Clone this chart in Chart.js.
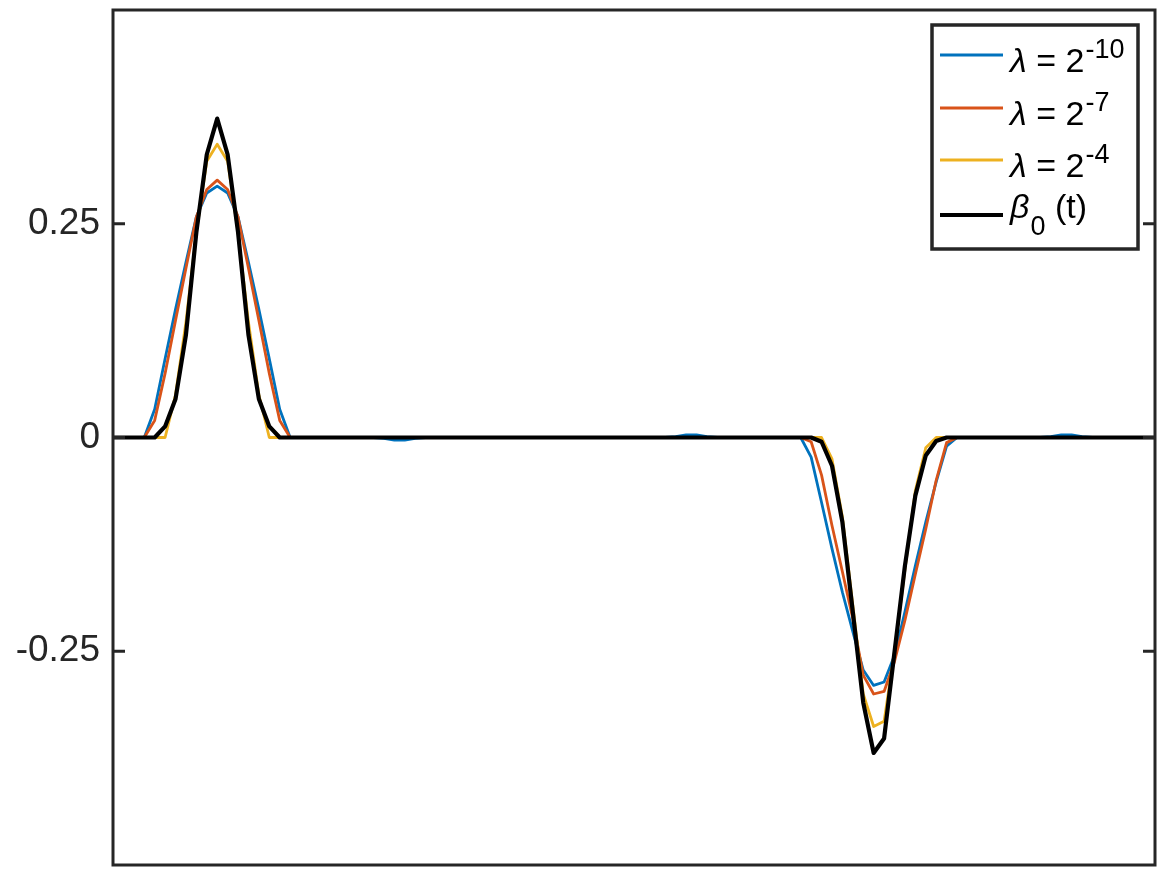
<!DOCTYPE html>
<html>
<head>
<meta charset="utf-8">
<script src="https://cdn.jsdelivr.net/npm/chart.js@4"></script>
<style>
  html, body { margin: 0; padding: 0; background: #fff; }
  #wrap { width: 1167px; height: 875px; }
</style>
</head>
<body>
<div id="wrap"><canvas id="betaChart" width="1167" height="875"></canvas></div>
<script>
// sampling grid t = 0 .. 1 (101 samples)
var tValues = Array.from({ length: 101 }, function (_, i) { return i / 100; });

var lambda10 = [
    0, 0, 0, 0, 0.033, 0.092, 0.150, 0.205, 0.258, 0.286,
    0.294, 0.286, 0.258, 0.205, 0.150, 0.092, 0.033, 0, 0, 0,
    0, 0, 0, 0, 0, 0, -0.001, -0.003, -0.003, -0.001,
    0, 0, 0, 0, 0, 0, 0, 0, 0, 0,
    0, 0, 0, 0, 0, 0, 0, 0, 0, 0,
    0, 0, 0, 0, 0.001, 0.003, 0.003, 0.001, 0, 0,
    0, 0, 0, 0, 0, 0, 0, -0.023, -0.076, -0.130,
    -0.181, -0.227, -0.272, -0.290, -0.286, -0.255, -0.204, -0.150, -0.099, -0.052,
    -0.010, 0, 0, 0, 0, 0, 0, 0, 0, 0,
    0.001, 0.003, 0.003, 0.001, 0, 0, 0, 0, 0, 0,
    0
];

var lambda7 = [
    0, 0, 0, 0, 0.020, 0.075, 0.137, 0.198, 0.258, 0.290,
    0.301, 0.290, 0.258, 0.198, 0.137, 0.075, 0.020, 0, 0, 0,
    0, 0, 0, 0, 0, 0, 0, 0, 0, 0,
    0, 0, 0, 0, 0, 0, 0, 0, 0, 0,
    0, 0, 0, 0, 0, 0, 0, 0, 0, 0,
    0, 0, 0, 0, 0, 0, 0, 0, 0, 0,
    0, 0, 0, 0, 0, 0, 0, -0.005, -0.044, -0.103,
    -0.157, -0.212, -0.278, -0.300, -0.297, -0.262, -0.214, -0.160, -0.107, -0.050,
    -0.006, 0, 0, 0, 0, 0, 0, 0, 0, 0,
    0, 0, 0, 0, 0, 0, 0, 0, 0, 0,
    0
];

var lambda4 = [
    0, 0, 0, 0, 0, 0, 0.050, 0.135, 0.240, 0.323,
    0.343, 0.323, 0.240, 0.135, 0.050, 0, 0, 0, 0, 0,
    0, 0, 0, 0, 0, 0, 0, 0, 0, 0,
    0, 0, 0, 0, 0, 0, 0, 0, 0, 0,
    0, 0, 0, 0, 0, 0, 0, 0, 0, 0,
    0, 0, 0, 0, 0, 0, 0, 0, 0, 0,
    0, 0, 0, 0, 0, 0, 0, 0, 0, -0.025,
    -0.093, -0.196, -0.300, -0.338, -0.332, -0.250, -0.155, -0.062, -0.012, 0,
    0, 0, 0, 0, 0, 0, 0, 0, 0, 0,
    0, 0, 0, 0, 0, 0, 0, 0, 0, 0,
    0
];

var beta0 = [
    0, 0, 0, 0, 0, 0.013, 0.045, 0.120, 0.240, 0.331,
    0.373, 0.331, 0.240, 0.120, 0.045, 0.013, 0, 0, 0, 0,
    0, 0, 0, 0, 0, 0, 0, 0, 0, 0,
    0, 0, 0, 0, 0, 0, 0, 0, 0, 0,
    0, 0, 0, 0, 0, 0, 0, 0, 0, 0,
    0, 0, 0, 0, 0, 0, 0, 0, 0, 0,
    0, 0, 0, 0, 0, 0, 0, 0, -0.005, -0.033,
    -0.099, -0.204, -0.310, -0.369, -0.352, -0.251, -0.150, -0.068, -0.021, -0.004,
    0, 0, 0, 0, 0, 0, 0, 0, 0, 0,
    0, 0, 0, 0, 0, 0, 0, 0, 0, 0,
    0
];

var yTickValues = [-0.25, 0, 0.25];
var yTickLabels = ['-0.25', '0', '0.25'];

// legend text pieces: [italic symbol, text, superscript, subscript, tail]
var seriesLabels = [
    ['\u03bb', ' = 2', '-10', '', ''],
    ['\u03bb', ' = 2', '-7', '', ''],
    ['\u03bb', ' = 2', '-4', '', ''],
    ['\u03b2', '', '', '0', ' (t)']
];
var seriesColors = ['#0072BD', '#D95319', '#EDB120', '#000000'];

var FONT = '"Liberation Sans", Helvetica, Arial, sans-serif';
var AXIS = '#262626';

function toPoints(values) {
    return values.map(function (v, i) { return { x: tValues[i], y: v }; });
}

var framePlugin = {
    id: 'frame',
    afterDatasetsDraw: function (chart) {
        var ctx = chart.ctx, a = chart.chartArea, y = chart.scales.y;
        ctx.save();
        ctx.strokeStyle = AXIS;
        ctx.lineWidth = 3;
        ctx.strokeRect(a.left, a.top, a.right - a.left, a.bottom - a.top);
        yTickValues.forEach(function (v) {
            var py = y.getPixelForValue(v);
            ctx.beginPath();
            ctx.moveTo(a.left, py); ctx.lineTo(a.left + 12, py);
            ctx.moveTo(a.right, py); ctx.lineTo(a.right - 12, py);
            ctx.stroke();
        });
        ctx.restore();
    }
};

var legendPlugin = {
    id: 'texLegend',
    afterDraw: function (chart) {
        var ctx = chart.ctx;
        var box = { x: 932, y: 25, w: 206, h: 224 };
        var rowY = [55, 108, 160, 215];
        var baseOff = [17, 17, 17, 3];
        ctx.save();
        ctx.fillStyle = '#fff';
        ctx.fillRect(box.x, box.y, box.w, box.h);
        ctx.strokeStyle = AXIS;
        ctx.lineWidth = 3.5;
        ctx.strokeRect(box.x, box.y, box.w, box.h);
        chart.data.datasets.forEach(function (ds, k) {
            var ly = rowY[k];
            ctx.strokeStyle = ds.borderColor;
            ctx.lineWidth = ds.borderWidth;
            ctx.beginPath();
            ctx.moveTo(940, ly); ctx.lineTo(1003, ly);
            ctx.stroke();

            var parts = seriesLabels[k];
            var bl = ly + baseOff[k];
            var x = 1010;
            ctx.fillStyle = '#000';
            ctx.textBaseline = 'alphabetic';
            ctx.textAlign = 'left';
            ctx.font = 'italic 34px ' + FONT;
            ctx.fillText(parts[0], x, bl);
            x += ctx.measureText(parts[0]).width;
            ctx.font = '34px ' + FONT;
            ctx.fillText(parts[1], x, bl);
            x += ctx.measureText(parts[1]).width;
            ctx.font = '27px ' + FONT;
            if (parts[2]) {
                ctx.fillText(parts[2], x + 1, bl - 14);
                x += ctx.measureText(parts[2]).width + 1;
            }
            if (parts[3]) {
                ctx.fillText(parts[3], x + 1, bl + 17);
                x += ctx.measureText(parts[3]).width + 1;
            }
            ctx.font = '34px ' + FONT;
            if (parts[4]) ctx.fillText(parts[4], x, bl);
        });
        ctx.restore();
    }
};

var ctx1 = document.getElementById('betaChart').getContext('2d');
var betaChart = new Chart(ctx1, {
    type: 'line',
    data: {
        datasets: [
            { label: 'lambda = 2^-10', data: toPoints(lambda10), borderColor: seriesColors[0], borderWidth: 2.8, order: 4 },
            { label: 'lambda = 2^-7', data: toPoints(lambda7), borderColor: seriesColors[1], borderWidth: 2.8, order: 3 },
            { label: 'lambda = 2^-4', data: toPoints(lambda4), borderColor: seriesColors[2], borderWidth: 2.8, order: 2 },
            { label: 'beta_0 (t)', data: toPoints(beta0), borderColor: seriesColors[3], borderWidth: 4.2, order: 1 }
        ]
    },
    options: {
        responsive: false,
        animation: false,
        events: [],
        layout: { padding: { left: 0, right: 12, top: 10, bottom: 10 } },
        elements: {
            point: { radius: 0 },
            line: { tension: 0, fill: false, borderJoinStyle: 'round' }
        },
        plugins: {
            legend: { display: false },
            tooltip: { enabled: false }
        },
        scales: {
            x: {
                type: 'linear',
                min: 0,
                max: 1,
                display: false
            },
            y: {
                type: 'linear',
                min: -0.5,
                max: 0.5,
                afterBuildTicks: function (scale) {
                    scale.ticks = yTickValues.map(function (v) { return { value: v }; });
                },
                afterFit: function (scale) {
                    scale.width = 113;
                    scale.paddingTop = 0;
                    scale.paddingBottom = 0;
                },
                grid: { display: false, drawTicks: false },
                border: { display: false },
                ticks: {
                    padding: 13,
                    color: AXIS,
                    font: { family: FONT, size: 37 },
                    callback: function (v) {
                        var i = yTickValues.indexOf(v);
                        return i >= 0 ? yTickLabels[i] : '';
                    }
                }
            }
        }
    },
    plugins: [framePlugin, legendPlugin]
});
</script>
</body>
</html>
